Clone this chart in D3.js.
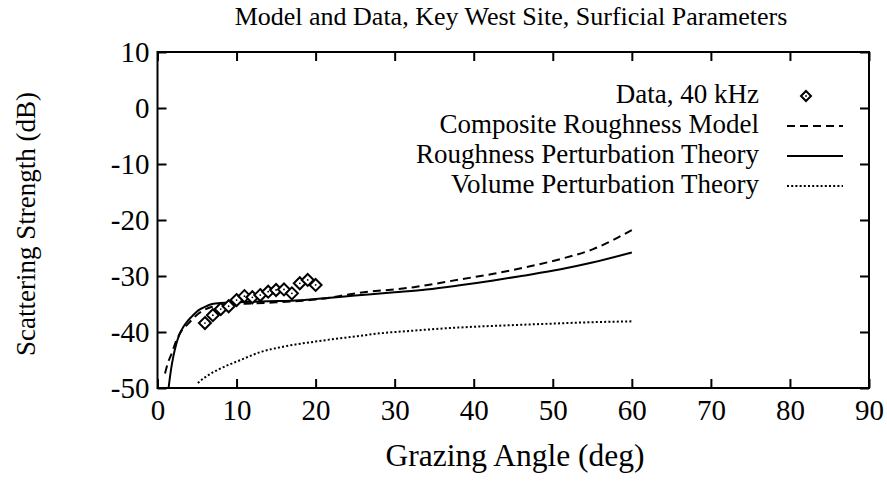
<!DOCTYPE html>
<html><head><meta charset="utf-8">
<script src="https://cdn.jsdelivr.net/npm/d3@7"></script>
<style>
html,body{margin:0;padding:0;background:#fff;}
text{font-family:"Liberation Serif","Times New Roman",serif;fill:#000;}
</style></head>
<body><svg id="chart" width="887" height="500"></svg>
<script>
// ---- data ----
const titleText = "Model and Data, Key West Site, Surficial Parameters";
const xLabelText = "Grazing Angle (deg)";
const yLabelText = "Scattering Strength (dB)";
const xTicks = [0,10,20,30,40,50,60,70,80,90];
const yTicks = [-50,-40,-30,-20,-10,0,10];
const legendLabels = ["Data, 40 kHz","Composite Roughness Model","Roughness Perturbation Theory","Volume Perturbation Theory"];

const dataAngle = [6,7,8,9,10,11,12,13,14,15,16,17,18,19,20];
const dataDb = [-38.4,-37.0,-35.9,-35.4,-34.3,-33.6,-33.8,-33.4,-32.8,-32.5,-32.4,-33.1,-31.3,-30.7,-31.6];

const compAngle = [0.95,1.3,1.8,2.3,2.9,3.9,5.2,6.9,8,10,12,15,20,25.6,32.4,38.3,42.5,46.7,50.9,55.1,60];
const compDb = [-47.4,-45.6,-43.8,-41.8,-40.1,-38.5,-36.7,-35.5,-35.2,-35.0,-34.9,-34.7,-34.2,-33.0,-32.0,-30.6,-29.6,-28.4,-27.0,-25.2,-21.8];

const roughAngle = [1.4,1.7,2.0,2.4,2.85,3.3,3.9,4.5,5.2,6,6.9,8,10,12,14,17,20,25,30,34,38,42.5,46,51,55,60];
const roughDb = [-50,-46.8,-44.4,-42.0,-40.2,-39.0,-37.9,-37.0,-36.1,-35.5,-35.0,-34.8,-34.7,-34.6,-34.5,-34.4,-34.1,-33.5,-32.9,-32.4,-31.7,-30.8,-30.0,-28.8,-27.6,-25.8];

const volAngle = [5.1,6,8,10.5,13,16,20,25,28.4,32,36.9,41,45.3,50,53.8,60];
const volDb = [-49.1,-48.1,-46.5,-45.0,-43.6,-42.6,-41.7,-40.8,-40.2,-39.8,-39.3,-39.0,-38.75,-38.5,-38.3,-38.1];

// ---- layout ----
const L=157.5, R=869, T=52, B=388;
const svg = d3.select("#chart");
const x = d3.scaleLinear().domain([0,90]).range([L,R]);
const y = d3.scaleLinear().domain([-50,10]).range([B,T]);
const tickLen = 9;
const fmt = d => String(d);   // plain hyphen-minus, as in the original

// frame
svg.append("rect").attr("x",L).attr("y",T).attr("width",R-L).attr("height",B-T)
  .attr("fill","none").attr("stroke","#000").attr("stroke-width",2);

// axes
const fs = 29;
const gx = svg.append("g").attr("transform",`translate(0,${B})`)
  .call(d3.axisBottom(x).tickValues(xTicks).tickFormat(fmt).tickSizeInner(-tickLen).tickSizeOuter(0).tickPadding(11));
const gy = svg.append("g").attr("transform",`translate(${L},0)`)
  .call(d3.axisLeft(y).tickValues(yTicks).tickFormat(fmt).tickSizeInner(-tickLen).tickSizeOuter(0).tickPadding(8));
const gxt = svg.append("g").attr("transform",`translate(0,${T})`)
  .call(d3.axisTop(x).tickValues(xTicks).tickSizeInner(-tickLen).tickSizeOuter(0).tickFormat(""));
const gyr = svg.append("g").attr("transform",`translate(${R},0)`)
  .call(d3.axisRight(y).tickValues(yTicks).tickSizeInner(-tickLen).tickSizeOuter(0).tickFormat(""));
[gx,gy,gxt,gyr].forEach(g=>{
  g.select(".domain").remove();
  g.selectAll(".tick line").attr("stroke","#000").attr("stroke-width",2);
  g.selectAll(".tick text").attr("font-family","Liberation Serif").attr("font-size",fs).attr("fill","#000");
});

// title and axis labels
svg.append("text").attr("x",511).attr("y",25).attr("text-anchor","middle").attr("font-size",26).text(titleText);
svg.append("text").attr("x",515).attr("y",466).attr("text-anchor","middle").attr("font-size",31.5).text(xLabelText);
svg.append("text").attr("transform","translate(35,224) rotate(-90)").attr("text-anchor","middle").attr("font-size",27).text(yLabelText);

// curves
const line = d3.line().x(d=>x(d[0])).y(d=>y(d[1])).curve(d3.curveMonotoneX);
svg.append("clipPath").attr("id","clip").append("rect").attr("x",L).attr("y",T).attr("width",R-L).attr("height",B-T);
const plot = svg.append("g").attr("clip-path","url(#clip)");
const series = [
  {a:compAngle, v:compDb, dash:"8,5", w:2},
  {a:roughAngle, v:roughDb, dash:null, w:2},
  {a:volAngle, v:volDb, dash:"2,2.2", w:2}
];
series.forEach(s=>{
  plot.append("path").datum(s.a.map((a,i)=>[a,s.v[i]])).attr("d",line)
    .attr("fill","none").attr("stroke","#000").attr("stroke-width",s.w)
    .attr("stroke-dasharray",s.dash);
});

// data markers
const diamond = (cx,cy,r)=>`M${cx},${cy-r}L${cx+r},${cy}L${cx},${cy+r}L${cx-r},${cy}Z`;
const pts = plot.append("g");
dataAngle.forEach((a,i)=>{
  pts.append("path").attr("d",diamond(x(a),y(dataDb[i]),6)).attr("fill","#fff").attr("stroke","#000").attr("stroke-width",2);
  pts.append("circle").attr("cx",x(a)).attr("cy",y(dataDb[i])).attr("r",0.9).attr("fill","#000");
});

// legend
const lg = svg.append("g");
legendLabels.forEach((t,i)=>{
  const by = 103 + 30*i;
  lg.append("text").attr("x",759).attr("y",by).attr("text-anchor","end").attr("font-size",27).text(t);
  const sy = by-7;
  if(i===0){
    lg.append("path").attr("d",diamond(806,sy,5)).attr("fill","#fff").attr("stroke","#000").attr("stroke-width",2);
    lg.append("circle").attr("cx",806).attr("cy",sy).attr("r",0.9).attr("fill","#000");
  } else {
    const s = series[i-1];
    lg.append("line").attr("x1",787).attr("x2",843).attr("y1",sy).attr("y2",sy)
      .attr("stroke","#000").attr("stroke-width",2).attr("stroke-dasharray",s.dash);
  }
});
</script></body></html>
